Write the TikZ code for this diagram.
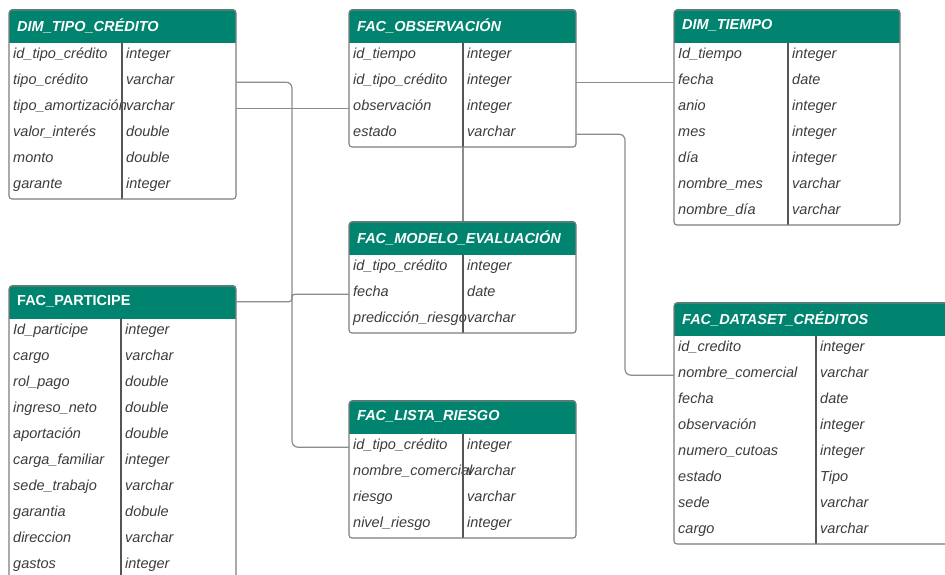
\documentclass[tikz,border=0pt]{standalone}
\usepackage{fontspec}
\setmainfont{Liberation Sans}
\usetikzlibrary{calc}

\definecolor{hdrgreen}{RGB}{0,132,111}
\definecolor{framegray}{RGB}{125,125,125}
\definecolor{divgray}{RGB}{85,85,85}
\definecolor{conngray}{RGB}{140,140,140}
\definecolor{txtgray}{RGB}{60,60,60}

\tikzset{
  hdrbox/.style={fill=hdrgreen, rounded corners=3pt, inner sep=0pt, inner xsep=8pt,
    minimum height=33pt, anchor=north west, align=left, text=white,
    font=\fontsize{14.5}{17}\selectfont\bfseries\itshape},
  rowbox/.style={inner sep=0pt, minimum height=26pt, anchor=north west},
  cell/.style={inner sep=0pt, anchor=base west, text=txtgray,
    font=\fontsize{14.5}{17}\selectfont\itshape},
  frame/.style={draw=framegray, line width=1.1pt, rounded corners=3pt},
  divline/.style={draw=divgray, line width=1.1pt},
  conn/.style={draw=conngray, line width=1.2pt},
}

% table: name, left, top, width, divider offset, number of rows, title, rows
\newcommand{\erdtable}[8]{%
  \pgfmathsetmacro{\erdbot}{#3+33+26*#6}%
  \pgfmathsetmacro{\erdright}{#2+#4}%
  \pgfmathsetmacro{\erddiv}{#2+#5}%
  \fill[white] (#2,#3) rectangle (\erdright,\erdbot);
  \fill[hdrgreen] (#2,#3+16) rectangle (\erdright,#3+33);
  \node[hdrbox, minimum width=#4pt, text width=#4pt-16pt] (#1) at (#2,#3-1) {#7};
  \foreach \fld/\typ [count=\i] in {#8} {
    \node[rowbox, minimum width=#4pt] (#1-\i) at (#2,#3+33+26*\i-26) {};
    \node[cell] (#1-\i-f) at (#2+4,#3+33+26*\i-10.5) {\fld};
    \node[cell] (#1-\i-t) at (\erddiv+4,#3+33+26*\i-10.5) {\typ};
  }
  \coordinate (#1-dt) at (\erddiv,#3+33);
  \coordinate (#1-db) at (\erddiv,\erdbot);
  \draw[divline] (#1-dt) -- (#1-db);
  \draw[frame] (#2,#3) rectangle (\erdright,\erdbot);
}

\begin{document}
\begin{tikzpicture}[x=1pt, y=-1pt]
\useasboundingbox (0,0) rectangle (945,574);
\clip (0,0) rectangle (945,574);

\erdtable{dtc}{9}{10}{227}{113}{6}{DIM\_TIPO\_CRÉDITO}{%
  id\_tipo\_crédito/integer, tipo\_crédito/varchar, tipo\_amortización/varchar,
  valor\_interés/double, monto/double, garante/integer}

\erdtable{obs}{349}{10}{227}{114}{4}{FAC\_OBSERVACIÓN}{%
  id\_tiempo/integer, id\_tipo\_crédito/integer, observación/integer, estado/varchar}

\erdtable{tiempo}{674}{10}{226}{114}{7}{DIM\_TIEMPO}{%
  Id\_tiempo/integer, fecha/date, anio/integer, mes/integer, día/integer,
  nombre\_mes/varchar, nombre\_día/varchar}

\erdtable{part}{9}{286}{227}{112}{10}{\upshape FAC\_PARTICIPE}{%
  Id\_participe/integer, cargo/varchar, rol\_pago/double, ingreso\_neto/double,
  aportación/double, carga\_familiar/integer, sede\_trabajo/varchar,
  garantia/dobule, direccion/varchar, gastos/integer}

\erdtable{modelo}{349}{222}{227}{114}{3}{FAC\_MODELO\_EVALUACIÓN}{%
  id\_tipo\_crédito/integer, fecha/date, predicción\_riesgo/varchar}

\erdtable{lista}{349}{401}{227}{114}{4}{FAC\_LISTA\_RIESGO}{%
  id\_tipo\_crédito/integer, nombre\_comercial/varchar, riesgo/varchar,
  nivel\_riesgo/integer}

\erdtable{dataset}{674}{303}{300}{142}{8}{FAC\_DATASET\_CRÉDITOS}{%
  id\_credito/integer, nombre\_comercial/varchar, fecha/date,
  observación/integer, numero\_cutoas/integer, estado/Tipo, sede/varchar,
  cargo/varchar}

% connectors
\coordinate (busA) at (292,200);
\coordinate (busB) at (292,297);
\coordinate (busF) at (625,250);

\draw[conn, rounded corners=6pt] (dtc-2.east) -| (busA) |- (lista-1.west);
\draw[conn, rounded corners=3pt] (part.east) -| (busB) |- (modelo-2.west);
\draw[conn] (dtc-3.east) -- (obs-3.west);
\draw[conn] (obs-db) -- (obs-db |- modelo.north);
\draw[conn] (obs-2.east) -- (tiempo-2.west);
\draw[conn, rounded corners=6pt] (obs-4.east) -| (busF) |- (dataset-2.west);
\end{tikzpicture}
\end{document}
